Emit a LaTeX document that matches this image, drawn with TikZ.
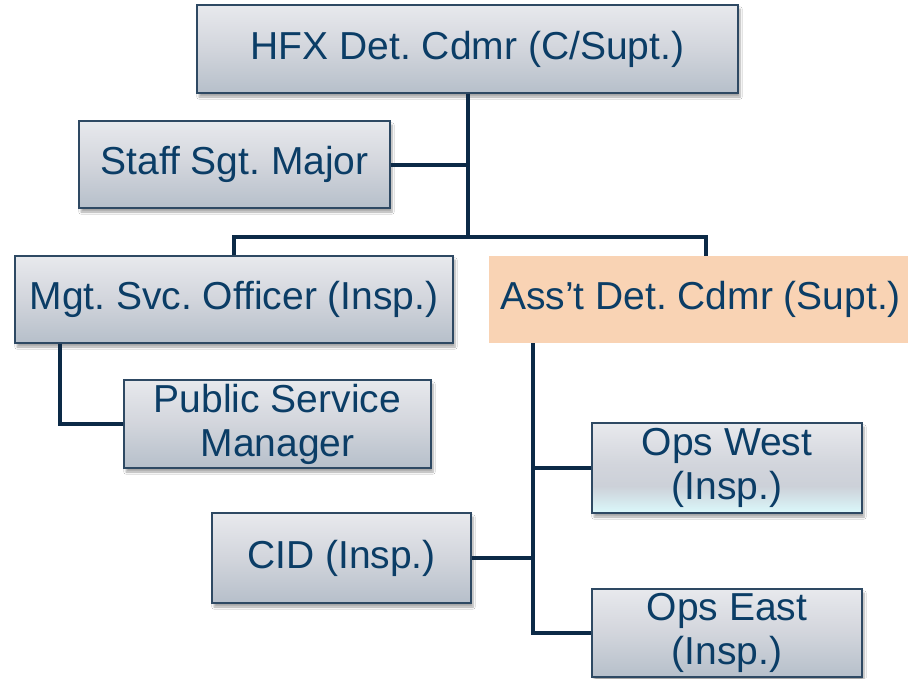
\documentclass[tikz,border=0pt]{standalone}
\usepackage{fontspec}
\setmainfont{Liberation Sans}
\usetikzlibrary{shadows.blur}
\definecolor{boxtop}{HTML}{E8E9ED}
\definecolor{boxmid}{HTML}{D2D5DC}
\definecolor{boxbot}{HTML}{B6BFCA}
\definecolor{boxline}{HTML}{2E4963}
\definecolor{txtblue}{HTML}{0B3D66}
\definecolor{connavy}{HTML}{0C2A47}
\definecolor{peach}{HTML}{F9D3B4}
\definecolor{paleaqua}{HTML}{DAF6F9}
% grey box that fades into pale aqua at its lower edge
% (a node fills the central 25bp..75bp band of the shading)
\pgfdeclareverticalshading{greyaqua}{100bp}{
  color(0bp)=(paleaqua); color(26bp)=(paleaqua); color(40bp)=(boxmid!80!boxbot);
  color(52bp)=(boxmid); color(75bp)=(boxtop); color(100bp)=(boxtop)}
\tikzset{
  orgbox/.style={draw=boxline, line width=1.3pt, top color=boxtop, bottom color=boxbot,
    middle color=boxmid, text=txtblue, align=center, inner sep=0pt,
    font=\fontsize{39}{44}\selectfont,
    blur shadow={shadow xshift=2pt, shadow yshift=-4pt, shadow blur steps=6, shadow opacity=35}},
  aquabox/.style={orgbox, shading=greyaqua},
  hilite/.style={fill=peach, text=txtblue, align=center, inner sep=0pt,
    font=\fontsize{39}{44}\selectfont},
  conn/.style={draw=connavy, line width=4pt}
}
\begin{document}
\frenchspacing
\begin{tikzpicture}[x=1pt, y=-1pt]
\useasboundingbox (0,0) rectangle (908,678);
\fill[white] (0,0) rectangle (908,678);

% boxes (pixel-style coordinates, y grows downward)
\node[orgbox, minimum width=541, minimum height=88] (hfx) at (467.5,49) {HFX Det. Cdmr (C/Supt.)};
\node[orgbox, minimum width=311, minimum height=87] (staff) at (234.5,164.5) {Staff Sgt. Major};
\node[orgbox, minimum width=438, minimum height=87] (mgt) at (234,299.5) {Mgt. Svc. Officer (Insp.)};
\node[hilite, minimum width=423, minimum height=87] (asst) at (700.5,299.5) {Ass't Det. Cdmr (Supt.)};
\node[orgbox, minimum width=307, minimum height=88] (psm) at (277.5,424) {Public Service\\Manager};
\node[orgbox, minimum width=259, minimum height=90] (cid) at (341.5,558) {CID (Insp.)};
\node[aquabox, minimum width=270, minimum height=90] (opsw) at (727,468) {Ops West\\(Insp.)};
\node[orgbox, minimum width=270, minimum height=88] (opse) at (727,633) {Ops East\\(Insp.)};

% connectors
\coordinate (bar) at (467.5,237);
\coordinate (spine) at (533,0);
\draw[conn] (staff.east) -- (staff.east -| hfx.south);
\draw[conn] (hfx.south) -- (bar);
\draw[conn] (mgt.north) |- (bar) -| (asst.north -| 706,0);
\draw[conn] (mgt.south -| 60,0) |- (psm.west);
\draw[conn] (asst.south -| spine) |- (opse.west);
\draw[conn] (opsw.west) -- (opsw.west -| spine);
\draw[conn] (cid.east) -- (cid.east -| spine);
\end{tikzpicture}
\end{document}
